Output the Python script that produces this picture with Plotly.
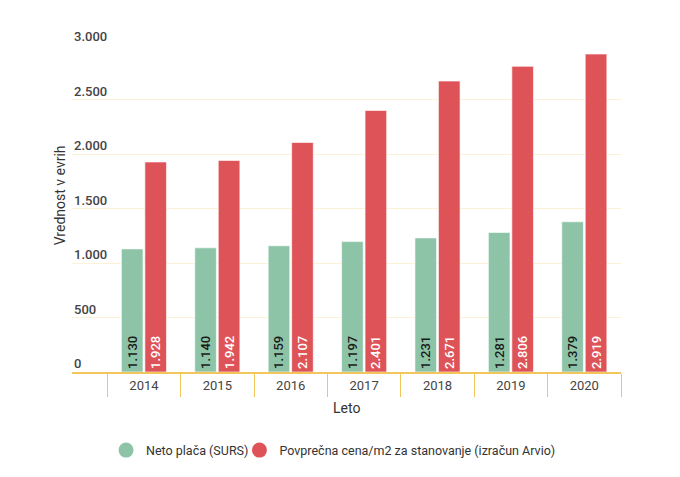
import plotly.graph_objects as go

years = ["2014", "2015", "2016", "2017", "2018", "2019", "2020"]
neto_placa = [1130, 1140, 1159, 1197, 1231, 1281, 1379]
cena_m2 = [1928, 1942, 2107, 2401, 2671, 2806, 2919]
series_names = ["Neto plača (SURS)", "Povprečna cena/m2 za stanovanje (izračun Arvio)"]
y_ticks = [0, 500, 1000, 1500, 2000, 2500, 3000]
y_tick_labels = ["0", "500", "1.000", "1.500", "2.000", "2.500", "3.000"]

GREEN = "#8dc4a7"
RED = "#de5358"
YELLOW = "#f2c65a"
FONT = "Roboto"

fig = go.Figure()
fig.add_trace(go.Bar(
    x=years, y=neto_placa, name=series_names[0], showlegend=False,
    marker=dict(color=GREEN, line=dict(color="rgba(255,255,255,0.6)", width=1)),
    texttemplate="%{y:,.0f}", textposition="inside", insidetextanchor="start",
    textangle=-90, textfont=dict(family=FONT, size=13, color="#1a1a1a", weight=500),
    hoverinfo="skip",
))
fig.add_trace(go.Bar(
    x=years, y=cena_m2, name=series_names[1], showlegend=False,
    marker=dict(color=RED, line=dict(color="rgba(255,255,255,0.6)", width=1)),
    texttemplate="%{y:,.0f}", textposition="inside", insidetextanchor="start",
    textangle=-90, textfont=dict(family=FONT, size=13, color="#ffffff", weight=500),
    hoverinfo="skip",
))
for name, col, lg in zip(series_names, [GREEN, RED], ["legend", "legend2"]):
    fig.add_trace(go.Scatter(
        x=[None], y=[None], mode="markers", name=name, legend=lg,
        marker=dict(color=col, size=15, symbol="circle"),
    ))

annotations = []
for v, lab in zip(y_ticks, y_tick_labels):
    annotations.append(dict(
        x=0, xref="paper", y=v, yref="y", text=lab, showarrow=False,
        xanchor="left", yanchor="bottom", yshift=-1,
        font=dict(family=FONT, size=13, color="#444444", weight=500),
    ))
annotations.append(dict(
    x=-0.022, xref="paper", y=0.54, yref="paper", text="Vrednost v evrih",
    textangle=-90, showarrow=False, xanchor="center", yanchor="middle",
    font=dict(family=FONT, size=14, color="#333333"),
))
annotations.append(dict(
    x=0.5, xref="paper", y=-0.11, yref="paper", text="Leto",
    showarrow=False, xanchor="center", yanchor="middle",
    font=dict(family=FONT, size=14, color="#333333"),
))

legend_style = dict(
    orientation="h", xanchor="left", y=-0.24, yanchor="middle",
    font=dict(family=FONT, size=12.5, color="#333333"),
    itemsizing="trace", bgcolor="rgba(0,0,0,0)",
)

fig.update_layout(
    width=680, height=477,
    margin=dict(l=72, r=59, t=45, b=102),
    paper_bgcolor="white", plot_bgcolor="white",
    separators=",.",
    barmode="group", bargap=0.36, bargroupgap=0.08,
    font=dict(family=FONT, size=13, color="#444444"),
    xaxis=dict(
        type="category", range=[-0.98, 6.5],
        showgrid=False, showline=True, linecolor=YELLOW, linewidth=2,
        ticks="outside", tickson="boundaries", ticklen=23, tickcolor=YELLOW,
        tickwidth=1, ticklabelstandoff=0,
        tickfont=dict(family=FONT, size=13, color="#444444"),
        zeroline=False,
    ),
    yaxis=dict(
        range=[0, 3002], tickvals=y_ticks, showticklabels=False,
        showgrid=True, gridcolor="#fdf1d8", gridwidth=1, zeroline=False,
        showline=False, ticks="",
    ),
    legend=dict(x=0.062, **legend_style),
    legend2=dict(x=0.305, **legend_style),
    annotations=annotations,
)

fig.write_html("out.html", config={"displayModeBar": False},
               post_script="document.body.style.margin='0';")
